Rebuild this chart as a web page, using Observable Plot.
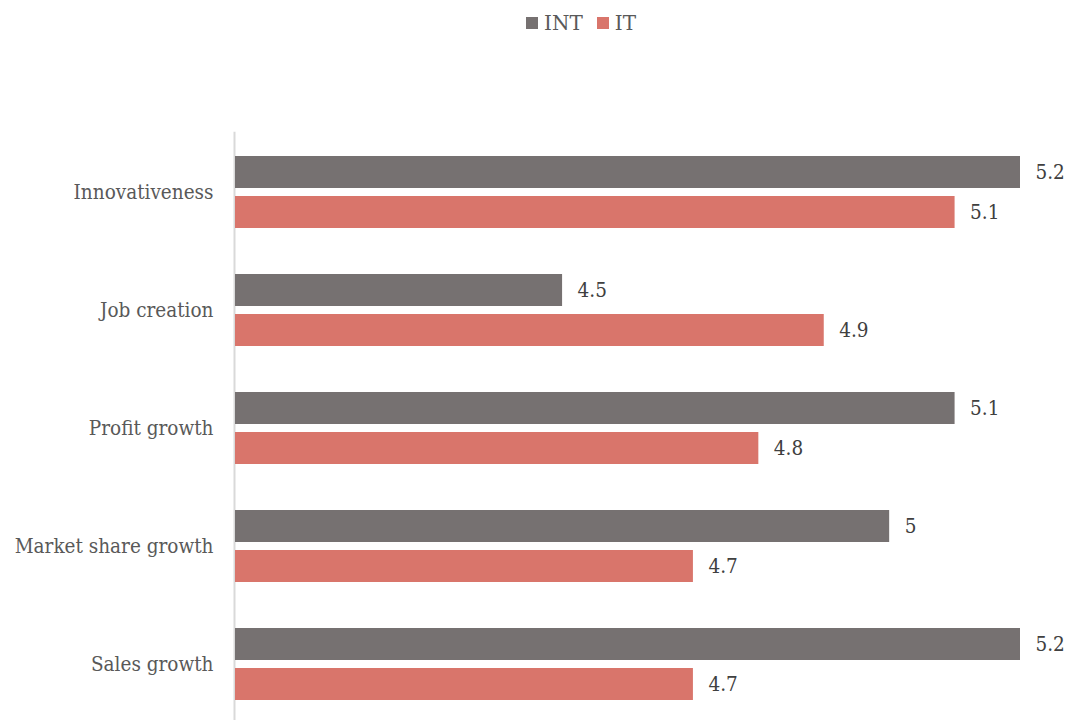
<!DOCTYPE html>
<html>
<head>
<meta charset="utf-8">
<script src="https://cdn.jsdelivr.net/npm/d3@7"></script>
<script src="https://cdn.jsdelivr.net/npm/@observablehq/plot@0.6"></script>
<style>
  html, body { margin: 0; padding: 0; background: #fff; overflow: hidden; }
  #legend { height: 45px; width: 1070px; display: flex; justify-content: center; align-items: center;
    box-sizing: border-box; padding-left: 92px; font-family: "DejaVu Serif", serif; font-size: 20px; color: #595959; }
  #legend .item { display: flex; align-items: center; margin: 0 7px; }
  #legend .sw { width: 12px; height: 12px; margin-right: 6px; display: inline-block; }
</style>
</head>
<body>
<div id="legend"></div>
<div id="chart"></div>
<script>
const categories = ["Innovativeness", "Job creation", "Profit growth", "Market share growth", "Sales growth"];
const seriesNames = ["INT", "IT"];
const intValues = [5.2, 4.5, 5.1, 5.0, 5.2];
const itValues = [5.1, 4.9, 4.8, 4.7, 4.7];
const seriesColors = ["#767171", "#D9756B"];
const xDomain = [4, 5.2];

const intData = categories.map((c, i) => ({category: c, series: "INT", value: intValues[i]}));
const itData = categories.map((c, i) => ({category: c, series: "IT", value: itValues[i]}));

const legend = document.getElementById("legend");
seriesNames.forEach((s, i) => {
  const item = document.createElement("span");
  item.className = "item";
  const sw = document.createElement("span");
  sw.className = "sw";
  sw.style.background = seriesColors[i];
  item.appendChild(sw);
  item.appendChild(document.createTextNode(s));
  legend.appendChild(item);
});

const font = "'DejaVu Serif Condensed', 'DejaVu Serif', serif";

const chart = Plot.plot({
  width: 1070,
  height: 680,
  marginLeft: 235,
  marginRight: 50,
  marginTop: 86.75,
  marginBottom: 0.75,
  style: {fontFamily: font, fontSize: "20.5px", color: "#595959", background: "#fff"},
  x: {domain: xDomain, axis: null},
  y: {domain: categories, paddingInner: 0.392, paddingOuter: 0.196, label: null, tickSize: 0, tickPadding: 22},
  marks: [
    Plot.ruleX([xDomain[0]], {stroke: "#d9d9d9", strokeWidth: 2, dx: -1}),
    Plot.barX(intData, {x1: xDomain[0], x2: "value", y: "category", fill: seriesColors[0], insetBottom: 40}),
    Plot.barX(itData, {x1: xDomain[0], x2: "value", y: "category", fill: seriesColors[1], insetTop: 40}),
    Plot.text(intData, {x: "value", y: "category", text: d => String(d.value), dy: -20, dx: 15, textAnchor: "start", fill: "#404040", fontSize: 20.5}),
    Plot.text(itData, {x: "value", y: "category", text: d => String(d.value), dy: 20, dx: 15, textAnchor: "start", fill: "#404040", fontSize: 20.5})
  ]
});
document.getElementById("chart").appendChild(chart);
</script>
</body>
</html>
